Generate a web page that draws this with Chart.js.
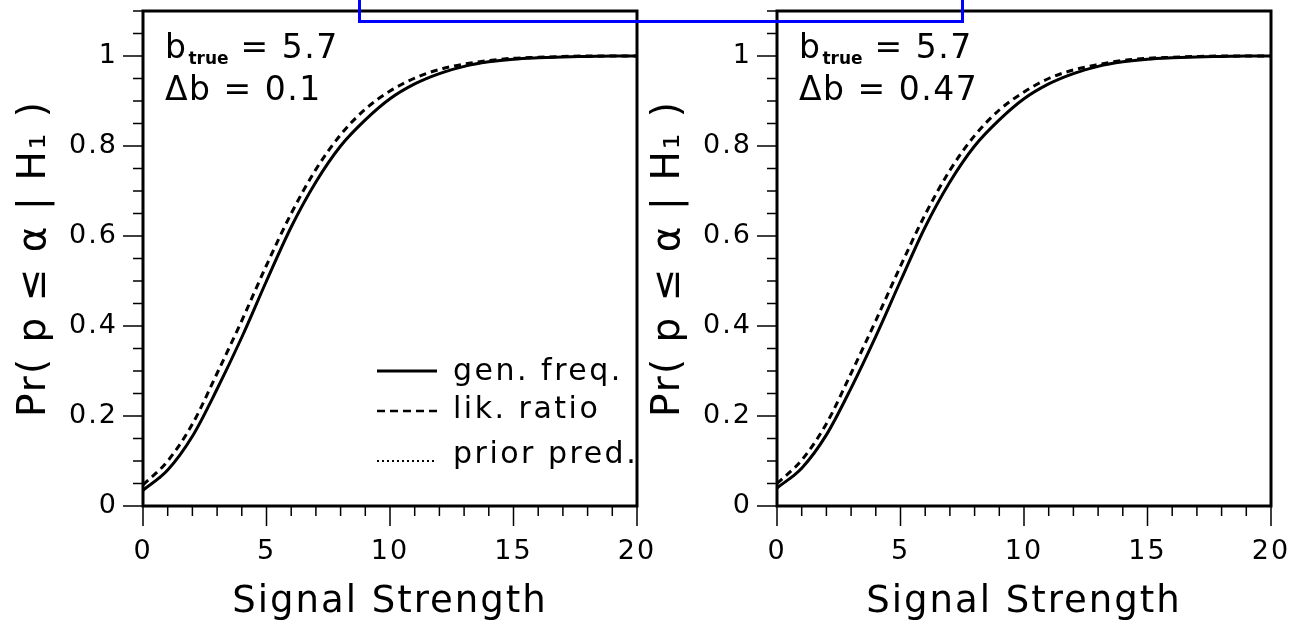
<!DOCTYPE html>
<html><head><meta charset="utf-8">
<script src="https://cdn.jsdelivr.net/npm/chart.js@4/dist/chart.umd.min.js"></script>
<style>
html,body{margin:0;padding:0;background:#fff;overflow:hidden}
#wrap{position:relative;width:1293px;height:628px;overflow:hidden}
.pane{position:absolute;top:0;width:660px;height:628px}
#blue{position:absolute;left:358px;top:-10px;width:606px;height:33px;border:3px solid #0000ff;box-sizing:border-box;z-index:5}
</style></head>
<body>
<div id="wrap">
  <div class="pane" style="left:0"><canvas id="c1" width="660" height="628"></canvas></div>
  <div class="pane" style="left:634px"><canvas id="c2" width="660" height="628"></canvas></div>
  <div id="blue"></div>
</div>
<script>
// ---- data ----
const signal = [0,1,2,3,4,5,6,7,8,9,10,11,12,13,14,15,16,17,18,19,20];
const leftGenFreq   = [0.035,0.08,0.155,0.26,0.375,0.50,0.62,0.72,0.80,0.858,0.905,0.938,0.961,0.977,0.987,0.993,0.996,0.998,0.999,1.0,1.0];
const leftLikRatio  = [0.047,0.10,0.182,0.295,0.412,0.535,0.65,0.748,0.825,0.882,0.922,0.951,0.970,0.982,0.990,0.995,0.997,0.999,1.0,1.0,1.0];
const leftPriorPred = [0.035,0.08,0.155,0.26,0.375,0.50,0.62,0.72,0.80,0.858,0.905,0.938,0.961,0.977,0.987,0.993,0.996,0.998,0.999,1.0,1.0];
const rightGenFreq   = [0.040,0.084,0.158,0.262,0.377,0.50,0.62,0.72,0.80,0.858,0.905,0.938,0.961,0.977,0.987,0.993,0.996,0.998,0.999,1.0,1.0];
const rightLikRatio  = [0.050,0.102,0.183,0.295,0.412,0.533,0.648,0.746,0.823,0.880,0.920,0.950,0.969,0.981,0.990,0.995,0.997,0.999,1.0,1.0,1.0];
const rightPriorPred = [0.040,0.084,0.158,0.262,0.377,0.50,0.62,0.72,0.80,0.858,0.905,0.938,0.961,0.977,0.987,0.993,0.996,0.998,0.999,1.0,1.0];
const xMajorTicks = [0,5,10,15,20];
const yTickValues = [0,0.2,0.4,0.6,0.8,1];
const seriesNames = ['gen. freq.','lik. ratio','prior pred.'];
const bTrueText = '5.7';
const leftDeltaB = '0.1';
const rightDeltaB = '0.47';
const xTitle = 'Signal Strength';
const yTitle = 'Pr( p \u2264 \u03B1 | H\u2081 )';

const FONT = "'DejaVu Sans', sans-serif";

function pts(arr){ return signal.map((s,i)=>({x:s,y:arr[i]})); }

function zeroPad(s){ s.paddingTop = 0; s.paddingBottom = 0; s.paddingLeft = 0; s.paddingRight = 0; }

function framePlugin(deltaB, showLegend){
  return {
    id:'frame',
    beforeDraw(chart){ chart.ctx.letterSpacing = '2px'; },
    afterDraw(chart){
      const {ctx, chartArea:a, scales:{x,y}} = chart;
      ctx.save();
      ctx.letterSpacing = '0px';
      ctx.strokeStyle = '#000';
      ctx.lineWidth = 1.5;
      ctx.beginPath();
      for (let v = 0; v <= 20; v++) {
        const px = x.getPixelForValue(v);
        const len = xMajorTicks.includes(v) ? 20 : 10;
        ctx.moveTo(px, a.bottom); ctx.lineTo(px, a.bottom + len);
      }
      for (let i = 0; i <= 22; i++) {
        const py = y.getPixelForValue(i * 0.05);
        const len = (i % 4 === 0) ? 20 : 10;
        ctx.moveTo(a.left, py); ctx.lineTo(a.left - len, py);
      }
      ctx.stroke();
      ctx.lineWidth = 3;
      ctx.strokeRect(a.left, a.top, a.width, a.height);

      // annotations
      ctx.fillStyle = '#000';
      ctx.textBaseline = 'alphabetic';
      ctx.textAlign = 'left';
      ctx.letterSpacing = '1.5px';
      let tx = a.left + 22, ty = a.top + 47;
      ctx.font = `33px ${FONT}`;
      ctx.fillText('b', tx, ty);
      tx += ctx.measureText('b').width + 1;
      ctx.font = `bold 17px ${FONT}`;
      ctx.letterSpacing = '0px';
      ctx.fillText('true', tx, ty + 6);
      tx += ctx.measureText('true').width + 4;
      ctx.letterSpacing = '1.5px';
      ctx.font = `33px ${FONT}`;
      ctx.fillText('= ' + bTrueText, tx + 8, ty);
      ctx.fillText('\u0394b = ' + deltaB, a.left + 22, a.top + 89);

      if (showLegend) {
        ctx.save();
        ctx.beginPath(); ctx.rect(a.left, a.top, a.width, a.height); ctx.clip();
        const lx0 = a.left + 234, lx1 = a.left + 294, tx2 = a.left + 310;
        const rows = [
          {dy: 360, mid: 361, dash: [], w: 3},
          {dy: 400, mid: 399, dash: [8,5], w: 2.5},
          {dy: 450, mid: 444, dash: [2,3], w: 2}
        ];
        ctx.font = `30px ${FONT}`;
        ctx.letterSpacing = '2.5px';
        rows.forEach((r,i)=>{
          ctx.beginPath();
          ctx.setLineDash(r.dash);
          ctx.lineWidth = r.w;
          ctx.moveTo(lx0, a.top + r.dy); ctx.lineTo(lx1, a.top + r.dy);
          ctx.stroke();
          ctx.setLineDash([]);
          ctx.textBaseline = 'middle';
          ctx.fillText(seriesNames[i], tx2, a.top + r.mid);
        });
        ctx.restore();
      }
      ctx.restore();
    }
  };
}

function makeChart(id, gen, lik, prior, deltaB, showLegend){
  return new Chart(document.getElementById(id), {
    type:'line',
    data:{ datasets:[
      {label:seriesNames[0], data:pts(gen), borderColor:'#000', borderWidth:3, pointRadius:0, cubicInterpolationMode:'monotone', fill:false},
      {label:seriesNames[1], data:pts(lik), borderColor:'#000', borderWidth:3, borderDash:[7,5], pointRadius:0, cubicInterpolationMode:'monotone', fill:false},
      {label:seriesNames[2], data:pts(prior), borderColor:'#000', borderWidth:2, borderDash:[2,3], pointRadius:0, cubicInterpolationMode:'monotone', fill:false}
    ]},
    options:{
      responsive:false, animation:false, devicePixelRatio:1,
      layout:{padding:{top:11,right:23,left:0,bottom:0}},
      plugins:{legend:{display:false}, tooltip:{enabled:false}},
      scales:{
        x:{type:'linear', min:0, max:20,
          afterFit(s){ s.height = 122; zeroPad(s); },
          border:{display:false}, grid:{display:false, drawTicks:false},
          ticks:{stepSize:5, padding:30, color:'#000', font:{family:FONT, size:27}, maxRotation:0},
          title:{display:true, text:xTitle, color:'#000', font:{family:FONT, size:37}, padding:{top:0,bottom:3}}
        },
        y:{type:'linear', min:0, max:1.1,
          afterFit(s){ s.width = 143; zeroPad(s); },
          afterBuildTicks(s){ s.ticks = yTickValues.map(v=>({value:v})); },
          border:{display:false}, grid:{display:false, drawTicks:false},
          ticks:{padding:25, color:'#000', font:{family:FONT, size:27}, callback:(v)=>String(Math.round(v*10)/10)},
          title:{display:true, text:yTitle, color:'#000', font:{family:FONT, size:39}, padding:{top:11,bottom:0}}
        }
      }
    },
    plugins:[framePlugin(deltaB, showLegend)]
  });
}

makeChart('c1', leftGenFreq, leftLikRatio, leftPriorPred, leftDeltaB, true);
makeChart('c2', rightGenFreq, rightLikRatio, rightPriorPred, rightDeltaB, false);
</script>
</body></html>
